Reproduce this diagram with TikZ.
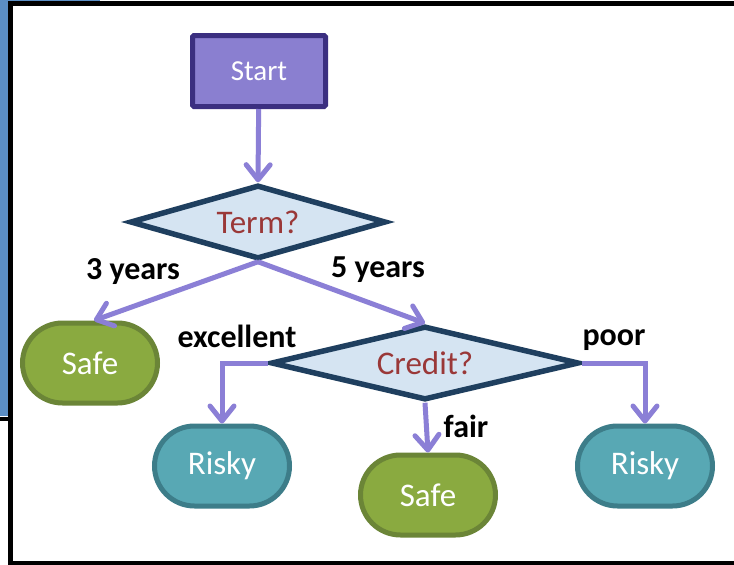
\documentclass[tikz,border=0pt]{standalone}
\usepackage{fontspec}
\setmainfont{Carlito}
\usepackage{tikz}
\usetikzlibrary{shapes,arrows.meta}
\definecolor{startfill}{RGB}{138,127,208}
\definecolor{startline}{RGB}{59,47,128}
\definecolor{askfill}{RGB}{213,228,242}
\definecolor{askline}{RGB}{31,63,95}
\definecolor{asktext}{RGB}{154,56,56}
\definecolor{safefill}{RGB}{138,170,64}
\definecolor{safeline}{RGB}{107,133,55}
\definecolor{riskyfill}{RGB}{88,168,180}
\definecolor{riskyline}{RGB}{61,125,137}
\definecolor{flowline}{RGB}{139,127,214}
\definecolor{slideblue}{RGB}{91,142,196}
\tikzstyle{startbox}=[rectangle,rounded corners=1.5pt,fill=startfill,draw=startline,line width=5pt,minimum width=133pt,minimum height=71pt,text=white,font=\fontsize{29}{31}\selectfont]
\tikzstyle{ask}=[diamond,fill=askfill,draw=askline,line width=5.5pt,inner sep=0pt,aspect=3.4,text=asktext,font=\fontsize{33}{35}\selectfont]
\tikzstyle{leaf}=[rectangle,rounded corners=40pt,line width=5pt,minimum width=135pt,minimum height=80pt,text=white,font=\fontsize{33}{35}\selectfont]
\tikzstyle{safe}=[leaf,fill=safefill,draw=safeline]
\tikzstyle{risky}=[leaf,fill=riskyfill,draw=riskyline]
\tikzstyle{arr}=[draw=flowline,line width=5pt,-{Straight Barb[length=15pt,width=24pt,round]}]
\tikzstyle{lbl}=[inner sep=0pt,font=\bfseries\fontsize{32}{34}\selectfont]
\newcommand{\tikzpxunit}{1pt}

\begin{document}
\begin{tikzpicture}[x=\tikzpxunit,y=-\tikzpxunit]
    \useasboundingbox (0,0) rectangle (734,565);
    \clip (0,0) rectangle (734,565);
    % slide behind
    \fill[slideblue] (0,0) rectangle (8,416);
    \fill[slideblue] (0,0) rectangle (100,1);
    \draw[line width=4pt] (0,419) -- (10,419);
    \fill[white] (10,3.5) rectangle (745,563);
    \draw[line width=5pt] (10,3.5) rectangle (745,563);

    \node[startbox] (start) at (259,71) {Start};
    \node[ask,minimum width=256pt,minimum height=74pt] (term) at (258,222) {Term?};
    \node[ask,minimum width=308pt,minimum height=74pt] (credit) at (425,363) {Credit?};

    \node[safe]  (safeA)  at (90,363)  {Safe};
    \node[risky] (riskyA) at (222,466) {Risky};
    \node[safe]  (safeB)  at (428,495) {Safe};
    \node[risky] (riskyB) at (645,466) {Risky};

    \draw[arr] (start) -- (term.north);
    \draw[arr] (term.south) -- ([xshift=4pt]safeA.north);
    \draw[arr] (term.south) -- (credit.north);
    \draw[arr] (credit.west) -| (riskyA.north);
    \draw[arr] (credit.south) -- (safeB.north);
    \draw[arr] (credit.east) -| (riskyB.north);

    \node[lbl] (lblThree) at (133,272) {3 years};
    \node[lbl] (lblFive)  at (378,270) {5 years};
    \node[lbl] (lblExc)   at (237,336) {excellent};
    \node[lbl] (lblPoor)  at (614,340) {poor};
    \node[lbl] (lblFair)  at (466,426) {fair};
\end{tikzpicture}
\end{document}
